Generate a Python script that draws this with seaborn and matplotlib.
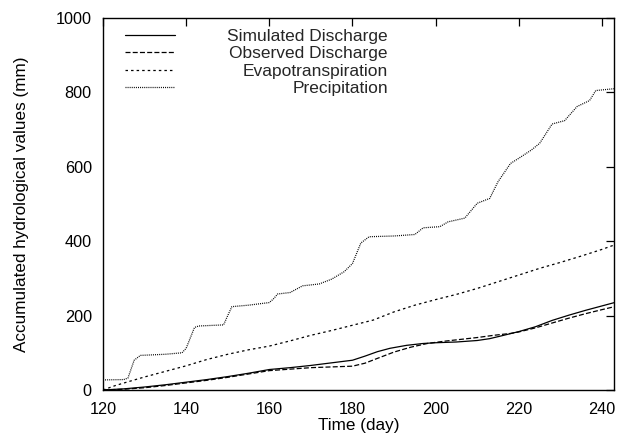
import matplotlib
matplotlib.use("Agg")
import matplotlib.pyplot as plt
import seaborn as sns
import pandas as pd

# ---- data ----
sim_day = [120, 125, 130, 135, 140, 145, 150, 155, 160, 165, 170, 175, 180, 183, 186, 189,
           193, 197, 200, 205, 210, 213, 216, 220, 224, 228, 232, 236, 240, 243]
sim_val = [0, 3, 8, 14, 21, 28, 36, 45, 55, 60, 66, 73, 80, 91, 103, 112,
           120, 125, 127, 129, 133, 138, 146, 157, 170, 187, 201, 214, 226, 235]

obs_day = [120, 125, 130, 135, 140, 145, 150, 155, 160, 165, 170, 175, 180, 183, 186, 190,
           194, 198, 202, 206, 210, 214, 218, 220, 224, 228, 232, 236, 240, 243]
obs_val = [0, 2, 6, 12, 19, 26, 34, 43, 52, 56, 60, 62, 64, 72, 85, 102,
           115, 125, 131, 136, 141, 147, 152, 156, 167, 180, 193, 205, 216, 224]

et_day = [120, 123, 126, 130, 135, 140, 145, 150, 155, 160, 165, 170, 175, 180, 185, 190,
          195, 200, 205, 210, 215, 220, 225, 230, 235, 240, 243]
et_val = [0, 12, 22, 35, 50, 65, 82, 96, 108, 118, 132, 147, 160, 174, 188, 210,
          228, 243, 257, 273, 291, 309, 327, 343, 360, 378, 390]

pr_day = [120, 125, 126, 127.5, 129, 135, 139, 140, 142, 143, 149, 150, 151, 155, 160, 161,
          162, 165, 168, 172, 175, 178, 180, 182, 184, 190, 195, 197, 201, 203, 207, 210,
          213, 215, 218, 220, 223, 225, 228, 231, 234, 237, 238.5, 243]
pr_val = [27, 28, 32, 80, 93, 96, 100, 112, 168, 172, 175, 200, 224, 228, 235, 245,
          258, 262, 280, 285, 298, 318, 340, 395, 412, 414, 418, 436, 439, 452, 462, 502,
          515, 560, 609, 623, 645, 663, 715, 724, 762, 778, 805, 810]

labels = ["Simulated Discharge", "Observed Discharge", "Evapotranspiration", "Precipitation"]
x_ticks = [120, 140, 160, 180, 200, 220, 240]
y_ticks = [0, 200, 400, 600, 800, 1000]

# ---- style ----
sns.set_theme(style="white")
plt.rcParams["font.family"] = ["Liberation Sans", "DejaVu Sans"]
plt.rcParams["lines.scale_dashes"] = False

fig = plt.figure(figsize=(6.26, 4.37), dpi=100)
ax = fig.add_axes([0.1645, 0.1076, 0.8171, 0.8512])

series = [
    (sim_day, sim_val, labels[0], "-"),
    (obs_day, obs_val, labels[1], (0, (3.6, 1.6))),
    (et_day, et_val, labels[2], (0, (1.8, 2.2))),
    (pr_day, pr_val, labels[3], (0, (0.7, 0.8))),
]
for d, v, lab, ls in series:
    df = pd.DataFrame({"day": d, "val": v})
    sns.lineplot(data=df, x="day", y="val", ax=ax, color="black", linewidth=0.9,
                 linestyle=ls, label=lab)

ax.set_xlim(120, 243)
ax.set_ylim(0, 1000)
ax.set_xticks(x_ticks)
ax.set_yticks(y_ticks)
ax.tick_params(direction="in", length=6, width=0.9, top=True, right=True,
               labelsize=11.7, colors="black")
ax.tick_params(axis="y", pad=8)
ax.tick_params(axis="x", pad=8.5)
for s in ax.spines.values():
    s.set_color("black")
    s.set_linewidth(1.0)
ax.set_xlabel("Time (day)", fontsize=12.3, labelpad=1, color="black")
ax.set_ylabel("Accumulated hydrological values (mm)", fontsize=12.3, labelpad=19,
              color="black")

leg = ax.legend(loc="upper left", bbox_to_anchor=(0.029, 0.99), frameon=False,
                fontsize=12.5, handlelength=2.9, handletextpad=3.0, labelspacing=0.13,
                borderaxespad=0.0)
for h in leg.get_lines():
    h.set_linewidth(0.9)

# right-justify legend texts (gnuplot style)
fig.canvas.draw()
texts = leg.get_texts()
widths = [t.get_window_extent().width for t in texts]
mw = max(widths)
for t, w in zip(texts, widths):
    t.set_x(mw - w)

fig.savefig("out.png", dpi=100)
